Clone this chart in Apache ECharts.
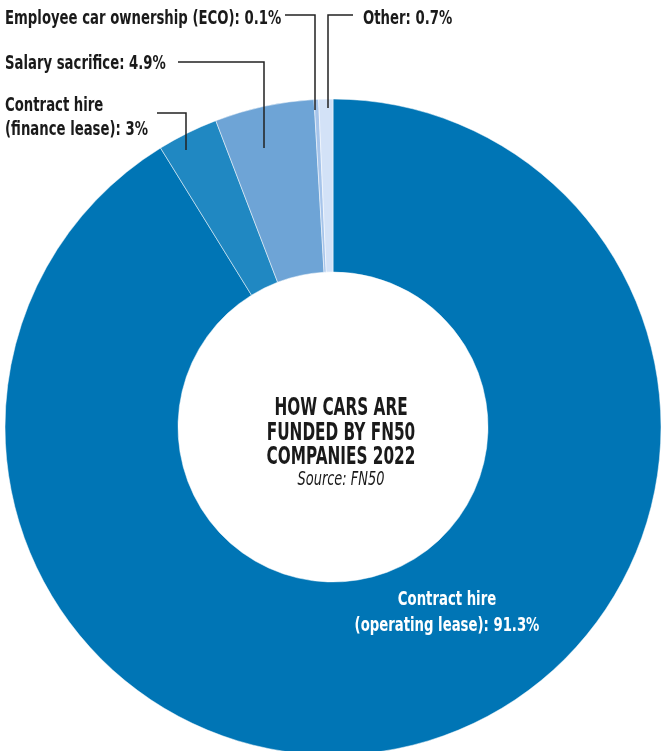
<!DOCTYPE html>
<html>
<head>
<meta charset="utf-8">
<script src="https://cdn.jsdelivr.net/npm/echarts@6/dist/echarts.min.js"></script>
<style>
  html, body { margin: 0; padding: 0; background: #ffffff; }
  #chart { width: 661px; height: 751px; }
</style>
</head>
<body>
<div id="chart"></div>
<script>
// Funding methods, clockwise from 12 o'clock
const categories = [
  'Contract hire\n(operating lease)',
  'Contract hire\n(finance lease)',
  'Salary sacrifice',
  'Employee car ownership (ECO)',
  'Other'
];
const shares = [91.3, 3, 4.9, 0.1, 0.7];
const sliceColors = ['#0075b5', '#2088c2', '#6ea4d6', '#a6c4ea', '#d3e2f7'];

const titleLines = ['HOW CARS ARE', 'FUNDED BY FN50', 'COMPANIES 2022'];
const sourceText = 'Source: FN50';

const FONT = '"DejaVu Sans Condensed", "Liberation Sans", sans-serif';
const INK = '#1a1a1a';
const SQUEEZE = 0.775; // horizontal squeeze for a narrow headline look

// Where each label sits and how its elbow leader line runs (annotation layout)
const labelPlacement = [
  { x: 447, y: 613, align: 'center', color: '#ffffff' },
  { x: 5, y: 118, align: 'left', line: [[186, 150], [186, 113], [157, 113]] },
  { x: 5, y: 64, align: 'left', line: [[264, 148], [264, 62], [178, 62]] },
  { x: 5, y: 19.5, align: 'left', line: [[315, 110], [315, 15], [285, 15]] },
  { x: 363, y: 19.5, align: 'left', line: [[328, 108], [328, 15], [353, 15]] }
];

const chart = echarts.init(document.getElementById('chart'), null, { renderer: 'canvas' });

const pieData = categories.map((name, i) => ({
  name: name,
  value: shares[i],
  itemStyle: { color: sliceColors[i] }
}));

// Slice labels and leader lines
const labelGraphics = [];
categories.forEach((name, i) => {
  const p = labelPlacement[i];
  if (p.line) {
    labelGraphics.push({
      type: 'polyline',
      z: 10,
      shape: { points: p.line },
      style: { stroke: '#222222', lineWidth: 1.5, fill: null }
    });
  }
  labelGraphics.push({
    type: 'text',
    z: 11,
    x: p.x,
    y: p.y,
    scaleX: SQUEEZE,
    style: {
      text: name + ': ' + shares[i] + '%',
      fontFamily: FONT,
      fontWeight: 'bold',
      fontSize: 19,
      lineHeight: i === 0 ? 26 : 24,
      align: p.align,
      verticalAlign: 'middle',
      fill: p.color || INK
    }
  });
});

chart.setOption({
  animation: false,
  backgroundColor: '#ffffff',
  series: [{
    type: 'pie',
    center: [333, 427],
    radius: [155, 328],
    startAngle: 90,
    clockwise: true,
    minAngle: 0.8,
    avoidLabelOverlap: false,
    silent: true,
    itemStyle: { borderColor: '#ffffff', borderWidth: 0.5 },
    label: { show: false },
    labelLine: { show: false },
    data: pieData
  }],
  graphic: labelGraphics.concat([
    {
      type: 'text',
      x: 341,
      y: 433,
      scaleX: 0.68,
      style: {
        text: titleLines.join('\n'),
        fontFamily: FONT,
        fontWeight: 'bold',
        fontSize: 25,
        lineHeight: 24.5,
        align: 'center',
        verticalAlign: 'middle',
        fill: INK
      }
    },
    {
      type: 'text',
      x: 341,
      y: 480,
      scaleX: 0.72,
      style: {
        text: sourceText,
        fontFamily: FONT,
        fontStyle: 'italic',
        fontSize: 20,
        align: 'center',
        verticalAlign: 'middle',
        fill: INK
      }
    }
  ])
});
</script>
</body>
</html>
